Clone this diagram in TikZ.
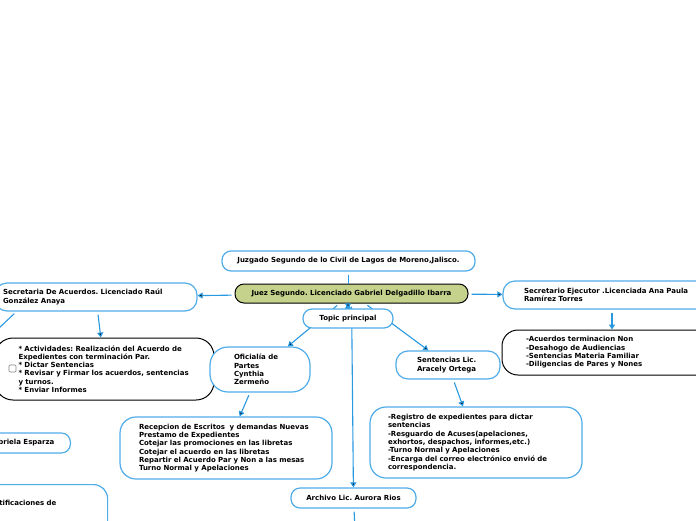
\documentclass[tikz,border=0pt]{standalone}
\usepackage{fontspec}
\setmainfont{DejaVu Sans}
\usetikzlibrary{arrows.meta,calc,positioning}
\definecolor{mapblue}{RGB}{80,172,232}
\definecolor{linkblue}{RGB}{40,152,224}
\definecolor{judgegreen}{RGB}{196,210,140}
\frenchspacing
\tikzset{
    -{Triangle[width=6pt,length=5pt]},x=1pt,y=-1pt,
    topic/.style ={draw=mapblue, fill=white, rounded corners=9pt, line width=1.2pt,
        font=\fontsize{7}{8.3}\selectfont\bfseries, inner ysep=2pt},
    note/.style = {topic, rounded corners=16pt, align=left},
    dark/.style = {draw=black, line width=1pt},
    link/.style = {draw=linkblue, line width=1.1pt, shorten <=3pt}
}

\begin{document}
\begin{tikzpicture}
    \useasboundingbox (0,0) rectangle (696,520);

    % main topics
    \node[topic, minimum width=253pt, minimum height=20pt] (juzgado) at (348.5,261) {Juzgado Segundo de lo Civil de Lagos de Moreno,Jalisco.};
    \node[topic, dark, fill=judgegreen, minimum width=233pt, minimum height=19pt] (juez) at (351.5,293.5) {Juez Segundo. Licenciado Gabriel Delgadillo Ibarra};

    % left branch
    \node[note, text width=186pt, inner xsep=8pt, minimum height=28pt, rounded corners=12pt] (secacu) at (96,297) {Secretaria De Acuerdos. Licenciado Raúl\\ González Anaya};
    \node[note, dark, text width=172pt, inner xsep=23.5pt, minimum height=62pt, rounded corners=18pt] (activ) at (104.5,369) {{*} Actividades: Realización del Acuerdo de\\ Expedientes con terminación Par.\\ {*} Dictar Sentencias\\ {*} Revisar y Firmar los acuerdos, sentencias\\ y turnos.\\ {*} Enviar Informes};
    \node[draw=gray, fill=white, rounded corners=1pt, minimum size=7pt, inner sep=0pt, line width=0.6pt] (chk) at (12.5,368.5) {};
    \node[topic, inner xsep=16pt, minimum height=20pt, anchor=east] (gabri) at (71,443) {Gabriela Esparza};
    \node[note, text width=103pt, inner xsep=16pt, minimum height=60pt, anchor=north west, rounded corners=14pt] (notif) at (-28,484) {Notificaciones de\\[16pt] -Lista};
    \coordinate (offleft) at (-20,346);

    % middle branch
    \node[note, text width=52pt, inner xsep=24pt, minimum height=45pt, rounded corners=18pt] (ofic) at (260,369.5) {Oficialía de\\ Partes\\ Cynthia\\ Zermeño};
    \node[note, text width=174pt, inner xsep=19pt, minimum height=62pt] (recep) at (226,448) {Recepcion de Escritos\ \ y demandas Nuevas\\ Prestamo de Expedientes\\ Cotejar las promociones en las libretas\\ Cotejar el acuerdo en las libretas\\ Repartir el Acuerdo Par y Non a las mesas\\ Turno Normal y Apelaciones};
    \node[note, text width=62pt, inner xsep=21pt, minimum height=28pt, rounded corners=12pt] (sent) at (448,365) {Sentencias Lic.\\ Aracely Ortega};
    \node[note, text width=176pt, inner xsep=18pt, minimum height=71pt] (regis) at (476,442.5) {-Registro de expedientes para dictar\\ sentencias\\ -Resguardo de Acuses(apelaciones,\\ exhortos, despachos, informes,etc.)\\ -Turno Normal y Apelaciones\\ -Encarga del correo electrónico envió de\\ correspondencia.};
    \node[topic, minimum width=125pt, minimum height=20pt] (archivo) at (353.5,498) {Archivo Lic. Aurora Rios};
    \coordinate (offbottom) at (355,530);

    % right branch
    \node[note, text width=168pt, inner xsep=21pt, minimum height=28pt, rounded corners=12pt] (secej) at (608,295) {Secretario Ejecutor .Licenciada Ana Paula\\ Ramírez Torres};
    \node[note, dark, text width=162pt, inner xsep=24pt, minimum height=45pt, rounded corners=16pt] (acuerd) at (607,352.5) {-Acuerdos terminacion Non\\ -Desahogo de Audiencias\\ -Sentencias Materia Familiar\\ -Diligencias de Pares y Nones};
    \coordinate (ejtop) at ([xshift=4pt]secej.south);
    \coordinate (ejbottom) at (ejtop |- acuerd.north);

    \path[link, -] (juzgado.south) edge (juzgado.south |- juez.north);
    \path[link] (juez) edge (secacu);
    \path[link] (juez) edge (secej);
    \path[link] (juez) edge (ofic);
    \path[link] (juez) edge (sent);
    \path[link] (juez) edge (archivo);
    \path[link] (secacu) edge (activ);
    \path[link, -] ([xshift=22pt]secacu.south west) edge (offleft);
    \path[link] (ofic) edge (recep);
    \path[link] (sent) edge (regis);
    \draw[link] (ejtop) -- (ejbottom);
    \path[link, -] (archivo) edge (offbottom);

    % central topic on top of the links
    \node[topic, minimum width=90pt, minimum height=19pt] (topic) at (348,318.5) {Topic principal};
    \path[link, shorten <=1pt] (juez.south -| topic.north) edge (topic.north);
\end{tikzpicture}
\end{document}
